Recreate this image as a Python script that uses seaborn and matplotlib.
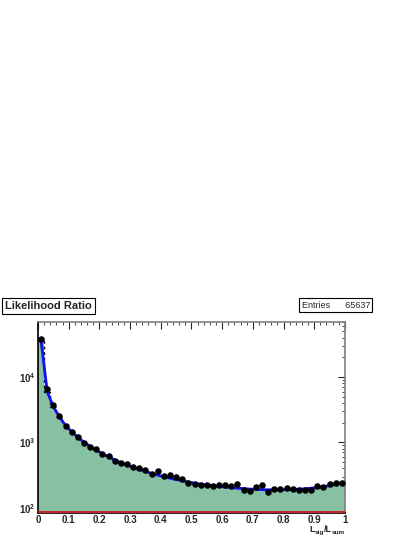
import numpy as np
import pandas as pd
import seaborn as sns
import matplotlib.pyplot as plt
from matplotlib.ticker import MultipleLocator, LogLocator, NullFormatter

# bin centres of the likelihood ratio histogram (50 bins, 0..1)
bin_centers = [round(0.01 + 0.02 * i, 2) for i in range(50)]

# data points (black markers)
data_counts = [38000, 6500, 3670, 2510, 1790, 1430, 1225, 990, 860, 800,
               660, 610, 525, 475, 468, 425, 400, 373, 330, 363,
               304, 315, 294, 273, 243, 232, 221, 224, 216, 224,
               224, 218, 232, 187, 182, 204, 221, 176, 191, 191,
               200, 193, 187, 188, 188, 216, 206, 229, 237, 240]

# smooth reference shape (filled histogram + blue curve)
mc_counts = [36000, 6000, 3500, 2450, 1800, 1450, 1200, 1000, 870, 760,
             670, 600, 540, 490, 450, 415, 385, 360, 335, 315,
             298, 283, 270, 258, 248, 238, 230, 223, 217, 212,
             207, 203, 199, 196, 193, 191, 189, 188, 188, 188,
             189, 190, 192, 195, 199, 204, 210, 218, 228, 240]

title_text = "Likelihood Ratio"
entries = 65637

df = pd.DataFrame({"x": bin_centers, "data": data_counts, "mc": mc_counts})

sns.set_style("white")
plt.rcParams["font.family"] = ["Liberation Sans", "DejaVu Sans"]

W, H = 415, 537
fig = plt.figure(figsize=(W / 100, H / 100), dpi=100)
ax = fig.add_axes([0.0916, 0.0447, 0.7395, 0.356])

ymin, ymax = 83, 70000

# filled histogram
edges = np.linspace(0, 1, 51)
ax.stairs(df["mc"], edges, fill=True, color="#86c1a4", baseline=ymin, zorder=1)
# dashed outline of the first bins
ax.stairs(df["mc"].iloc[:3], edges[:4], color="black", linestyle=(0, (2, 2)),
          linewidth=1, baseline=None, zorder=2)
# red background histogram at the bottom
ax.axhline(ymin * 1.045, color="#c0272d", linewidth=1.5, zorder=3)

# smooth curve
sns.lineplot(data=df, x="x", y="mc", ax=ax, color="#1010f0", linewidth=2,
             zorder=3)
# data markers
sns.scatterplot(data=df, x="x", y="data", ax=ax, color="black", s=22,
                edgecolor="black", linewidth=0, zorder=4)
ax.errorbar(df["x"], df["data"], yerr=np.sqrt(df["data"]), fmt="none",
            ecolor="black", elinewidth=0.8, zorder=4)

ax.set_yscale("log")
ax.set_xlim(0, 1)
ax.set_ylim(ymin, ymax)

ax.xaxis.set_major_locator(MultipleLocator(0.1))
ax.xaxis.set_minor_locator(MultipleLocator(0.02))
ax.yaxis.set_major_locator(LogLocator(base=10))
ax.yaxis.set_minor_locator(LogLocator(base=10, subs=np.arange(2, 10)))
ax.yaxis.set_minor_formatter(NullFormatter())
ax.set_xticklabels(["0" if abs(t) < 1e-9 else ("1" if abs(t - 1) < 1e-9 else f"{t:.1f}")
                    for t in ax.get_xticks()])

ax.tick_params(axis="both", which="both", direction="in", top=True, right=True,
               labelsize=7, pad=1.5)
ax.tick_params(which="major", length=5, width=0.8)
ax.tick_params(which="minor", length=2.5, width=0.6)
for lab in ax.get_xticklabels() + ax.get_yticklabels():
    lab.set_fontweight("bold")

for side in ["left", "bottom"]:
    ax.spines[side].set_color("black")
    ax.spines[side].set_linewidth(1.2)
for side in ["top", "right"]:
    ax.spines[side].set_color("#808080")
    ax.spines[side].set_linewidth(1.2)

ax.set_xlabel("")
ax.set_ylabel("")

# x axis title L_sig/L_sum, built from pieces so the subscripts stay compact
renderer = fig.canvas.get_renderer()
pieces = [("L", 6.5, 532), ("sig", 4.6, 534), ("/L", 6.5, 532), ("sum", 4.6, 534)]
texts = []
x = 0
for s, size, base in pieces:
    t = fig.text(x / W, (H - base) / H, s, fontsize=size, fontweight="bold",
                 ha="left", va="baseline")
    x = t.get_window_extent(renderer).x1
    texts.append(t)
shift = (345 - x) / W
for t in texts:
    px, py = t.get_position()
    t.set_position((px + shift, py))

# title box
fig.text(0.012, 0.43, title_text, fontsize=8, fontweight="bold", ha="left", va="center",
         bbox=dict(boxstyle="square,pad=0.25", facecolor="white", edgecolor="black",
                   linewidth=0.8))
fig.text(0.727, 0.432, f"Entries      {entries}", fontsize=6.5, ha="left", va="center",
         bbox=dict(boxstyle="square,pad=0.25", facecolor="white", edgecolor="black",
                   linewidth=0.8))

fig.savefig("out.png", dpi=100)
